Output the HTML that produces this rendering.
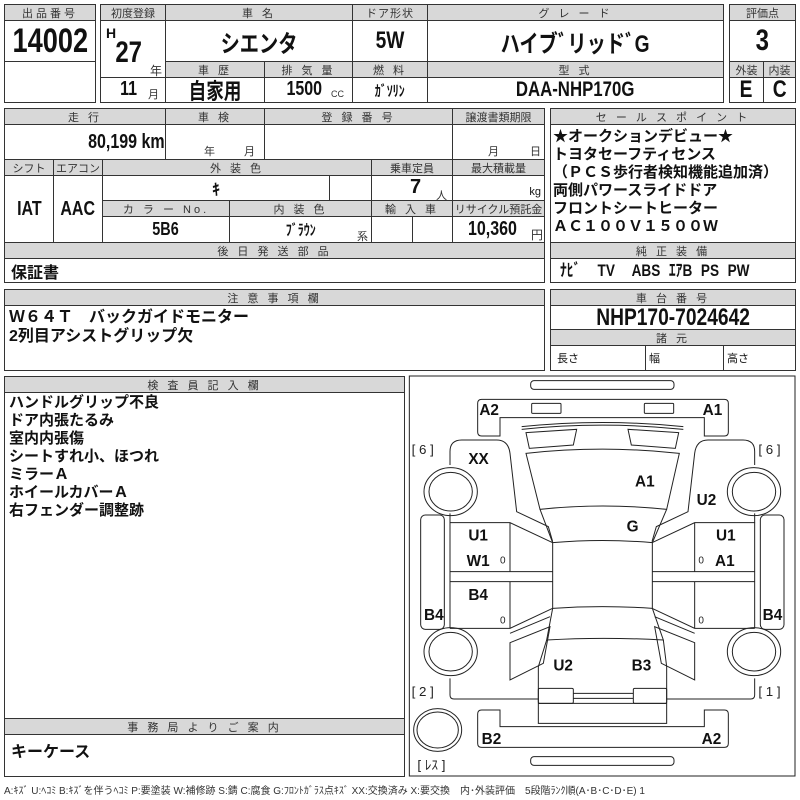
<!DOCTYPE html>
<html><head><meta charset="utf-8">
<style>
*{margin:0;padding:0;box-sizing:border-box}
body{width:800px;height:800px;background:#fff;position:relative;overflow:hidden;font-family:"Liberation Sans","Noto Sans CJK JP",sans-serif;color:#111}
.c{position:absolute;border:1px solid #333;display:flex;align-items:center;justify-content:center;white-space:nowrap}
.h{background:#d8d8d8;font-size:11px;color:#333;letter-spacing:3px;font-weight:normal}
.v{font-weight:bold;font-size:20px}
.v span,.n{display:inline-block;transform:scaleX(.8)}
.t{position:absolute;white-space:nowrap;font-weight:bold;font-size:15px;line-height:18px}
.s{position:absolute;font-size:10px;color:#333;white-space:nowrap}
</style></head><body>

<div class="c h" style="left:4px;top:4px;width:92px;height:17px">出品番号</div>
<div class="c v" style="left:4px;top:20px;width:92px;height:42px;font-size:34px"><span>14002</span></div>
<div class="c" style="left:4px;top:61px;width:92px;height:42px"></div>

<div class="c h" style="left:100px;top:4px;width:66px;height:17px;letter-spacing:0">初度登録</div>
<div class="c h" style="left:165px;top:4px;width:188px;height:17px">車 名</div>
<div class="c h" style="left:352px;top:4px;width:76px;height:17px;letter-spacing:1px">ドア形状</div>
<div class="c h" style="left:427px;top:4px;width:297px;height:17px">グ レ ー ド</div>
<div class="c" style="left:100px;top:20px;width:66px;height:58px"></div>
<div class="t" style="left:106px;top:24px;font-size:14px">H</div>
<div class="t" style="left:112px;top:38px;font-size:30px;line-height:30px"><span class="n">27</span></div>
<div class="s" style="left:150px;top:62px;font-size:12px">年</div>
<div class="c v" style="left:165px;top:20px;width:188px;height:42px;font-size:24px"><span>シエンタ</span></div>
<div class="c v" style="left:352px;top:20px;width:76px;height:42px;font-size:24px"><span>5W</span></div>
<div class="c v" style="left:427px;top:20px;width:297px;height:42px;font-size:24px"><span>ハイブﾞリッドﾞG</span></div>
<div class="c h" style="left:165px;top:61px;width:100px;height:17px">車 歴</div>
<div class="c h" style="left:264px;top:61px;width:89px;height:17px">排 気 量</div>
<div class="c h" style="left:352px;top:61px;width:76px;height:17px">燃 料</div>
<div class="c h" style="left:427px;top:61px;width:297px;height:17px">型 式</div>
<div class="c" style="left:100px;top:77px;width:66px;height:26px"></div>
<div class="t" style="left:118px;top:80px;font-size:20px"><span class="n">11</span></div><div class="s" style="left:148px;top:86px;font-size:11px">月</div>
<div class="c v" style="left:165px;top:77px;width:100px;height:26px;font-size:22px"><span>自家用</span></div>
<div class="c" style="left:264px;top:77px;width:89px;height:26px"></div>
<div class="t" style="left:282px;top:80px;font-size:20px"><span class="n">1500</span></div><div class="s" style="left:331px;top:89px;font-size:9px">CC</div>
<div class="c v" style="left:352px;top:77px;width:76px;height:26px;font-size:15px"><span>ｶﾞｿﾘﾝ</span></div>
<div class="c v" style="left:427px;top:77px;width:297px;height:26px;font-size:21px"><span>DAA-NHP170G</span></div>

<div class="c h" style="left:729px;top:4px;width:67px;height:17px;letter-spacing:0">評価点</div>
<div class="c v" style="left:729px;top:20px;width:67px;height:42px;font-size:30px"><span>3</span></div>
<div class="c h" style="left:729px;top:61px;width:35px;height:17px;letter-spacing:0">外装</div>
<div class="c h" style="left:763px;top:61px;width:33px;height:17px;letter-spacing:0">内装</div>
<div class="c v" style="left:729px;top:77px;width:35px;height:26px;font-size:24px"><span>E</span></div>
<div class="c v" style="left:763px;top:77px;width:33px;height:26px;font-size:24px"><span>C</span></div>

<div class="c h" style="left:4px;top:108px;width:162px;height:17px">走 行</div>
<div class="c h" style="left:165px;top:108px;width:100px;height:17px">車 検</div>
<div class="c h" style="left:264px;top:108px;width:189px;height:17px">登 録 番 号</div>
<div class="c h" style="left:452px;top:108px;width:93px;height:17px;letter-spacing:0">譲渡書類期限</div>
<div class="c v" style="left:4px;top:124px;width:162px;height:36px;justify-content:flex-end;padding-right:0px"><span style="transform-origin:right">80,199 km</span></div>
<div class="c" style="left:165px;top:124px;width:100px;height:36px"></div>
<div class="s" style="left:204px;top:143px;font-size:11px">年</div><div class="s" style="left:244px;top:143px;font-size:11px">月</div>
<div class="c" style="left:264px;top:124px;width:189px;height:36px"></div>
<div class="c" style="left:452px;top:124px;width:93px;height:36px"></div>
<div class="s" style="left:488px;top:143px;font-size:11px">月</div><div class="s" style="left:530px;top:143px;font-size:11px">日</div>

<div class="c h" style="left:4px;top:159px;width:50px;height:17px;letter-spacing:0">シフト</div>
<div class="c h" style="left:53px;top:159px;width:50px;height:17px;letter-spacing:0">エアコン</div>
<div class="c h" style="left:102px;top:159px;width:270px;height:17px">外 装 色</div>
<div class="c h" style="left:371px;top:159px;width:82px;height:17px;letter-spacing:0">乗車定員</div>
<div class="c h" style="left:452px;top:159px;width:93px;height:17px;letter-spacing:0">最大積載量</div>
<div class="c v" style="left:4px;top:175px;width:50px;height:68px"><span>IAT</span></div>
<div class="c v" style="left:53px;top:175px;width:50px;height:68px"><span>AAC</span></div>
<div class="c v" style="left:102px;top:175px;width:228px;height:26px;font-size:16px">ｷ</div>
<div class="c" style="left:329px;top:175px;width:43px;height:26px"></div>
<div class="c" style="left:371px;top:175px;width:82px;height:26px"></div>
<div class="t" style="left:410px;top:178px;font-size:20px">7</div><div class="s" style="left:436px;top:187px;font-size:11px">人</div>
<div class="c" style="left:452px;top:175px;width:93px;height:26px;justify-content:flex-end;padding-right:3px;font-size:11px;padding-top:8px">kg</div>
<div class="c h" style="left:102px;top:200px;width:128px;height:17px">カ ラ ー No.</div>
<div class="c h" style="left:229px;top:200px;width:143px;height:17px">内 装 色</div>
<div class="c h" style="left:371px;top:200px;width:82px;height:17px">輸 入 車</div>
<div class="c h" style="left:452px;top:200px;width:93px;height:17px;letter-spacing:0">リサイクル預託金</div>
<div class="c v" style="left:102px;top:216px;width:128px;height:27px;font-size:18px"><span>5B6</span></div>
<div class="c v" style="left:229px;top:216px;width:143px;height:27px;font-size:15px"><span>ﾌﾞﾗｳﾝ</span></div>
<div class="s" style="left:357px;top:228px;font-size:11px">系</div>
<div class="c" style="left:371px;top:216px;width:42px;height:27px"></div>
<div class="c" style="left:412px;top:216px;width:41px;height:27px"></div>
<div class="c" style="left:452px;top:216px;width:93px;height:27px"></div>
<div class="t" style="left:468px;top:220px;font-size:20px"><span class="n" style="transform-origin:left">10,360</span></div><div class="s" style="left:531px;top:226px;font-size:12px">円</div>
<div class="c h" style="left:4px;top:242px;width:541px;height:17px">後 日 発 送 部 品</div>
<div class="c" style="left:4px;top:258px;width:541px;height:25px;justify-content:flex-start;padding-left:6px;font-weight:bold;font-size:16px">保証書</div>

<div class="c h" style="left:550px;top:108px;width:246px;height:17px">セ ー ル ス ポ イ ン ト</div>
<div class="c" style="left:550px;top:124px;width:246px;height:119px"></div>
<div class="t" style="left:553px;top:128px">★オークションデビュー★<br>トヨタセーフティセンス<br>（ＰＣＳ歩行者検知機能追加済）<br>両側パワースライドドア<br>フロントシートヒーター<br>ＡＣ１００Ｖ１５００Ｗ</div>
<div class="c h" style="left:550px;top:242px;width:246px;height:17px">純 正 装 備</div>
<div class="c" style="left:550px;top:258px;width:246px;height:25px"></div>
<div class="t" style="left:560px;top:262px;font-size:17px;transform:scaleX(.8);transform-origin:left;word-spacing:6px">ﾅﾋﾞ&nbsp; TV&nbsp; ABS ｴｱB PS PW</div>

<div class="c h" style="left:4px;top:289px;width:541px;height:17px">注 意 事 項 欄</div>
<div class="c" style="left:4px;top:305px;width:541px;height:66px"></div>
<div class="t" style="left:9px;top:308px;font-size:16px;line-height:19px">Ｗ６４Ｔ　バックガイドモニター<br>2列目アシストグリップ欠</div>
<div class="c h" style="left:550px;top:289px;width:246px;height:17px">車 台 番 号</div>
<div class="c v" style="left:550px;top:305px;width:246px;height:25px;font-size:24px"><span>NHP170-7024642</span></div>
<div class="c h" style="left:550px;top:329px;width:246px;height:17px">諸 元</div>
<div class="c" style="left:550px;top:345px;width:96px;height:26px;justify-content:flex-start;padding-left:6px;font-size:11px">長さ</div>
<div class="c" style="left:645px;top:345px;width:79px;height:26px;justify-content:flex-start;padding-left:3px;font-size:11px">幅</div>
<div class="c" style="left:723px;top:345px;width:73px;height:26px;justify-content:flex-start;padding-left:3px;font-size:11px">高さ</div>

<div class="c h" style="left:4px;top:376px;width:401px;height:17px">検 査 員 記 入 欄</div>
<div class="c" style="left:4px;top:392px;width:401px;height:327px"></div>
<div class="t" style="left:9px;top:394px">ハンドルグリップ不良<br>ドア内張たるみ<br>室内内張傷<br>シートすれ小、ほつれ<br>ミラーＡ<br>ホイールカバーＡ<br>右フェンダー調整跡</div>
<div class="c h" style="left:4px;top:718px;width:401px;height:17px">事 務 局 よ り ご 案 内</div>
<div class="c" style="left:4px;top:734px;width:401px;height:43px;justify-content:flex-start;padding-left:6px;align-items:flex-start;padding-top:3px;font-weight:bold;font-size:16px">キーケース</div>

<svg style="position:absolute;left:400px;top:370px" width="400" height="430" viewBox="0 0 1200 1290">
<g fill="none" stroke="#222" stroke-width="3">
<rect x="28" y="18" width="1157" height="1200"/>
<rect x="392" y="32" width="430" height="26" rx="10"/>
<path d="M245,88 H973 q12,0 12,12 V186 q0,12 -12,12 H913 V143 H300 V198 H245 q-12,0 -12,-12 V100 q0,-12 12,-12 Z"/>
<rect x="395" y="100" width="88" height="30" rx="3"/>
<rect x="733" y="100" width="88" height="30" rx="3"/>
<path d="M365,170 Q607,145 850,170"/>
<path d="M365,178 Q607,153 850,178"/>
<path d="M378,188 L530,178 L520,225 L388,235 Z"/>
<path d="M836,188 L684,178 L694,225 L826,235 Z"/>
<path d="M378,250 Q607,225 838,250 L800,418 Q607,398 420,418 Z"/>
<path d="M420,418 L458,518 Q607,505 757,518 L800,418"/>
<path d="M458,518 V715 Q607,705 757,715 V518"/>
<path d="M458,715 L440,810 Q607,800 790,810 L757,715"/>
<path d="M440,810 L415,890 V1060 H800 V890 L790,810"/>
<path d="M415,1000 H800"/>
<rect x="415" y="955" width="105" height="45" rx="4"/>
<rect x="700" y="955" width="100" height="45" rx="4"/>
<path d="M520,970 H700 M520,985 H700"/>
<path d="M245,1020 H300 V1070 H913 V1020 H973 q12,0 12,12 V1120 q0,12 -12,12 H245 q-12,0 -12,-12 V1032 q0,-12 12,-12 Z"/>
<rect x="392" y="1160" width="430" height="26" rx="10"/>
<ellipse cx="113" cy="1080" rx="72" ry="64"/><ellipse cx="113" cy="1080" rx="62" ry="54"/>
<g id="side">
<path d="M150,285 V245 q0,-35 35,-35 H290 q35,0 40,40 L350,425 L445,470 L458,515"/>
<path d="M150,430 V458 H330 L458,518"/>
<ellipse cx="152" cy="365" rx="80" ry="72"/><ellipse cx="152" cy="365" rx="65" ry="58"/>
<rect x="62" y="435" width="71" height="343" rx="14"/>
<path d="M150,458 V775 M330,458 V605 M150,605 H458 M150,635 H458 M330,635 V775 M150,775 H330 L458,715"/>
<ellipse cx="152" cy="845" rx="80" ry="72"/><ellipse cx="152" cy="845" rx="65" ry="58"/>
<path d="M330,818 L450,770 L430,880 L330,930 Z"/>
<path d="M150,925 V975 q0,12 12,12 H415"/>
<path d="M450,740 L330,790"/>
</g>
<use href="#side" transform="matrix(-1,0,0,1,1214,0)"/>
</g>
<g font-family="Liberation Sans, sans-serif" font-weight="bold" font-size="46" fill="#111">
<text x="238" y="135">A2</text><text x="908" y="135">A1</text>
<text x="205" y="282">XX</text><text x="705" y="350">A1</text><text x="890" y="405">U2</text>
<text x="680" y="485">G</text>
<text x="205" y="512">U1</text><text x="200" y="588">W1</text>
<text x="948" y="512">U1</text><text x="945" y="588">A1</text>
<text x="205" y="690">B4</text><text x="72" y="750">B4</text><text x="1088" y="750">B4</text>
<text x="460" y="902">U2</text><text x="695" y="902">B3</text>
<text x="245" y="1122">B2</text><text x="905" y="1122">A2</text>
</g>
<g font-family="Liberation Sans, Noto Sans CJK JP, sans-serif" font-size="40" fill="#222">
<text x="35" y="252">[ 6 ]</text><text x="1075" y="252">[ 6 ]</text>
<text x="35" y="978">[ 2 ]</text><text x="1075" y="978">[ 1 ]</text>
<text x="52" y="1198">[ ﾚｽ ]</text>
<text x="300" y="580" font-size="30">0</text><text x="300" y="760" font-size="30">0</text>
<text x="895" y="580" font-size="30">0</text><text x="895" y="760" font-size="30">0</text>
</g>
</svg>

<div class="s" style="left:4px;top:782px;font-size:10px">A:ｷｽﾞ U:ﾍｺﾐ B:ｷｽﾞを伴うﾍｺﾐ P:要塗装 W:補修跡 S:錆 C:腐食 G:ﾌﾛﾝﾄｶﾞﾗｽ点ｷｽﾞ XX:交換済み X:要交換　内･外装評価　5段階ﾗﾝｸ順(A･B･C･D･E) 1</div>
</body></html>
